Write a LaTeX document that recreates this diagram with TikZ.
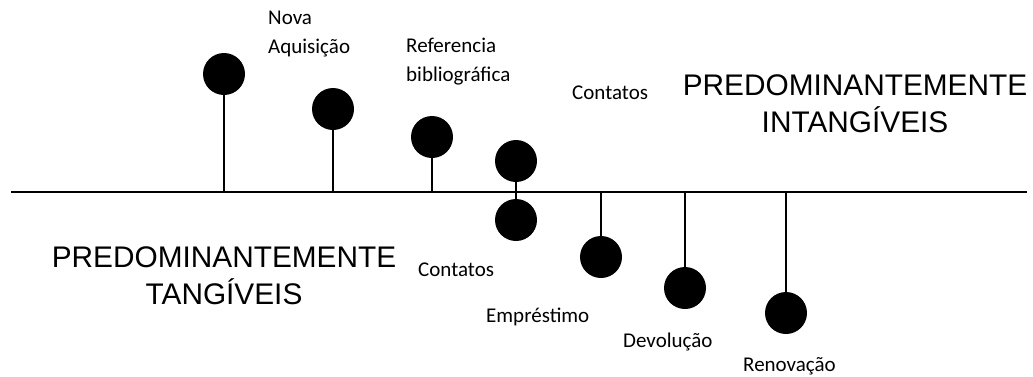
\documentclass[tikz,border=0pt]{standalone}
\usepackage{fontspec}
\setmainfont{Liberation Sans}
\newfontfamily\labelFont{Carlito}
\usepackage{tikz}
\usetikzlibrary{positioning}

\begin{document}
\begin{tikzpicture}[x=1pt, y=-1pt,
  dot/.style={circle, fill=black, inner sep=0pt, minimum size=42pt},
  stem/.style={line width=2.6pt},
  smallLabel/.style={font=\labelFont\fontsize{21}{29}\selectfont, inner sep=0pt, align=left, anchor=base west},
  bigLabel/.style={font=\fontsize{29.8}{37}\selectfont, inner sep=0pt, align=center, anchor=north}]
\useasboundingbox (0,0) rectangle (1033,376);

\coordinate (lineStart) at (11,192);
\coordinate (lineEnd) at (1027,192);
\draw[stem] (lineStart) -- (lineEnd);

\node[dot] (dotOne) at (224,74) {};
\node[dot] (dotTwo) at (333,109) {};
\node[dot] (dotThree) at (432,137) {};
\node[dot] (dotFourUp) at (516,161) {};
\node[dot] (dotFourDown) at (516,220) {};
\node[dot] (dotFive) at (601,257) {};
\node[dot] (dotSix) at (685,288) {};
\node[dot] (dotSeven) at (786,313) {};

\draw[stem] (dotOne) -- (dotOne |- lineStart);
\draw[stem] (dotTwo) -- (dotTwo |- lineStart);
\draw[stem] (dotThree) -- (dotThree |- lineStart);
\draw[stem] (dotFourUp) -- (dotFourDown);
\draw[stem] (dotFive) -- (dotFive |- lineStart);
\draw[stem] (dotSix) -- (dotSix |- lineStart);
\draw[stem] (dotSeven) -- (dotSeven |- lineStart);

\node[smallLabel] (novaAquisicao) at (268,53) {Nova\\Aquisição};
\node[smallLabel] (referencia) at (406,81) {Referencia\\bibliográfica};
\node[smallLabel] (contatosUp) at (572,99) {Contatos};
\node[smallLabel] (contatosDown) at (418,276) {Contatos};
\node[smallLabel] (emprestimo) at (486,322) {Empréstimo};
\node[smallLabel] (devolucao) at (623,347) {Devolução};
\node[smallLabel] (renovacao) at (743,371) {Renovação};

\node[bigLabel] (intangiveis) at (855,74) {PREDOMINANTEMENTE\\INTANGÍVEIS};
\node[bigLabel] (tangiveis) at (224,246) {PREDOMINANTEMENTE\\TANGÍVEIS};
\end{tikzpicture}
\end{document}
